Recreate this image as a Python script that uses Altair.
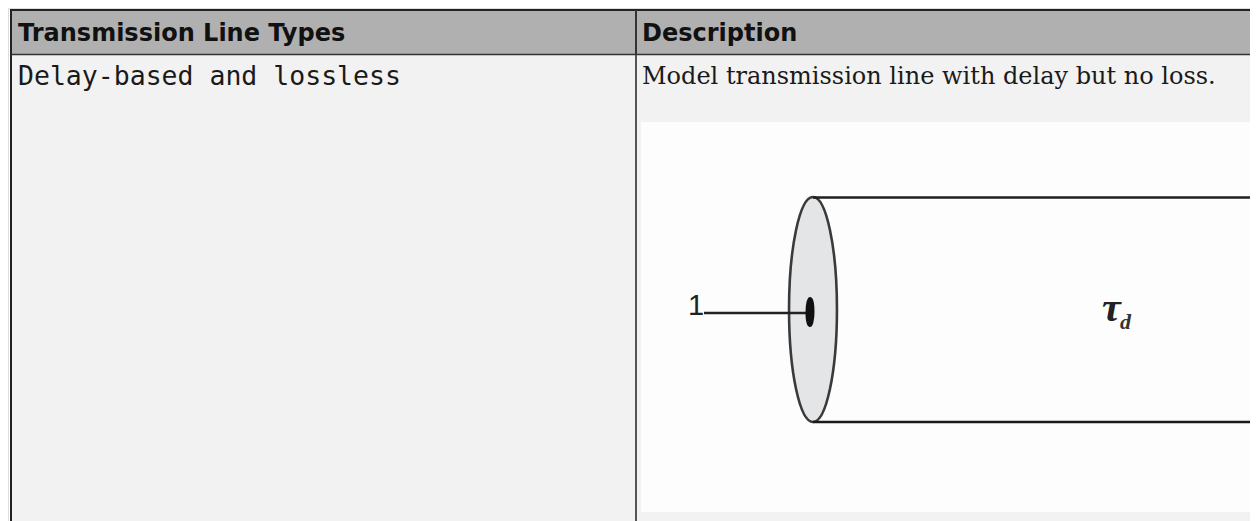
import altair as alt
import pandas as pd

W, H = 1258, 521
PLOT_W, PLOT_H = 1242, 513

# filled regions
rect_x0 = [12, 11, 641, 1257]
rect_x1 = [1258, 1258, 1257, 1258]
rect_y0 = [55, 11, 122, 122]
rect_y1 = [521, 54, 512, 512]
rect_color = ["#f2f2f2", "#b0b0b0", "#fdfdfd", "#e6e6e6"]

# straight lines
rule_x0 = [10, 11, 11, 636, 636, 813, 813, 704]
rule_x1 = [1258, 11, 1258, 636, 636, 1258, 1258, 810]
rule_y0 = [10, 10, 54.5, 10, 55, 197.5, 422, 313]
rule_y1 = [10, 521, 54.5, 55, 521, 197.5, 422, 313]
rule_color = ["#222222", "#222222", "#333333", "#333333", "#555555", "#1f1f1f", "#1a1a1a", "#222222"]
rule_width = [2, 2, 1.5, 2, 2, 2.4, 2.6, 2.4]

# texts
text_x = [18, 642, 18, 642, 688, 1102, 1120]
text_y = [33.5, 33.5, 76.5, 76.5, 306, 308, 322]
text_label = ["Transmission Line Types", "Description", "Delay-based and lossless",
              "Model transmission line with delay but no loss.", "1", "τ", "d"]
text_font = ["DejaVu Sans", "DejaVu Sans", "DejaVu Sans Mono", "DejaVu Serif",
             "Liberation Sans", "Liberation Serif", "Liberation Serif"]
text_size = [24, 24, 26.5, 24, 29, 42, 22]
text_weight = ["bold", "bold", "normal", "normal", "normal", "bold", "bold"]
text_style = ["normal", "normal", "normal", "normal", "normal", "italic", "italic"]
text_color = ["#111111", "#111111", "#1a1a1a", "#1a1a1a", "#222222", "#222222", "#333333"]

# ellipses (port face and pin)
ell_x = [813, 810]
ell_y = [309.5, 312]
ell_size = [225 ** 2, 28 ** 2]
ell_fill = ["#e4e5e7", "#111111"]
ell_stroke = ["#3a3a3a", "#111111"]
ell_rx = [0.213, 0.25]
ell_sw = [2.6, 2]

xs = alt.Scale(domain=[8, 8 + PLOT_W], range=[0, PLOT_W])
ys = alt.Scale(domain=[8 + PLOT_H, 8], range=[PLOT_H, 0])
X = alt.X("x:Q", scale=xs, axis=None)
Y = alt.Y("y:Q", scale=ys, axis=None)

rects = alt.Chart(pd.DataFrame(dict(x=rect_x0, x2=rect_x1, y=rect_y0, y2=rect_y1, c=rect_color))).mark_rect(
    strokeWidth=0
).encode(X, alt.X2("x2:Q"), Y, alt.Y2("y2:Q"), color=alt.Color("c:N", scale=None))

rules = alt.Chart(pd.DataFrame(dict(x=rule_x0, x2=rule_x1, y=rule_y0, y2=rule_y1, c=rule_color, w=rule_width))).mark_rule().encode(
    X, alt.X2("x2:Q"), Y, alt.Y2("y2:Q"),
    color=alt.Color("c:N", scale=None),
    strokeWidth=alt.StrokeWidth("w:Q", scale=None),
)

layers = [rects]
for i in range(2):
    path = f"M0,-1 A{ell_rx[i]},1 0 1 1 0,1 A{ell_rx[i]},1 0 1 1 0,-1 Z"
    if i == 1:
        layers.append(rules)
    layers.append(
        alt.Chart(pd.DataFrame(dict(x=[ell_x[i]], y=[ell_y[i]]))).mark_point(
            shape=path, size=ell_size[i], filled=True, fill=ell_fill[i], stroke=ell_stroke[i],
            strokeWidth=ell_sw[i], opacity=1,
        ).encode(X, Y)
    )

for i in range(len(text_label)):
    layers.append(
        alt.Chart(pd.DataFrame(dict(x=[text_x[i]], y=[text_y[i]], t=[text_label[i]]))).mark_text(
            font=text_font[i], fontSize=text_size[i], fontWeight=text_weight[i], fontStyle=text_style[i],
            align="left", baseline="middle", color=text_color[i],
        ).encode(X, Y, text="t:N")
    )

chart = alt.layer(*layers).properties(
    width=PLOT_W, height=PLOT_H, padding=0, autosize=alt.AutoSizeParams(type="none")
).configure_view(stroke=None).configure(background="#ffffff")

chart.save("out.html", embed_options={"renderer": "svg", "actions": False})
